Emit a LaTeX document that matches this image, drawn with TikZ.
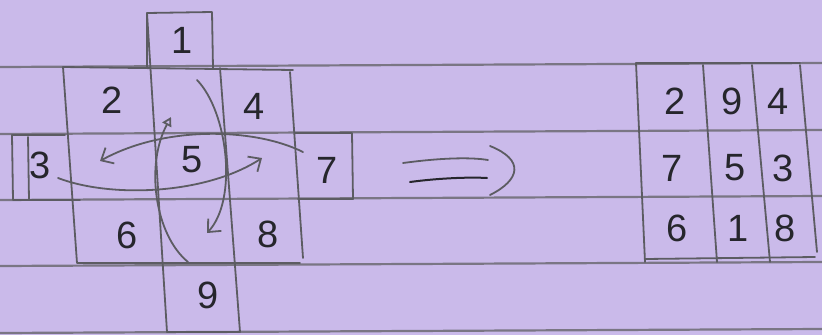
\documentclass[tikz,border=0pt]{standalone}
\usepackage{fontspec}
\setmainfont{Liberation Sans}
\usetikzlibrary{arrows.meta}
\definecolor{paper}{RGB}{202,186,234}
\definecolor{rulegray}{RGB}{122,118,132}
\definecolor{pencil}{RGB}{92,92,98}
\definecolor{ink}{RGB}{38,38,44}
\tikzset{
  digit/.style={text=ink,font=\fontsize{38}{40}\selectfont,inner sep=0pt},
  pen/.style={pencil,line width=1.8pt},
  sweep/.style={pen,-{Straight Barb[length=10pt,width=18pt]}},
}
\begin{document}
\begin{tikzpicture}[x=1pt,y=-1pt,line cap=round,line join=round]
    \fill[paper] (0,0) rectangle (822,335);
    \useasboundingbox (0,0) rectangle (822,335);
    % ruled paper
    \foreach \y in {67,134,200,266,333} \draw[rulegray,line width=2.2pt] (0,\y) -- (822,\y-4);
    % the cross of cells
    \draw[pen] (147,68) -- (147,13) -- (212,12) -- (213,68);
    \draw[pen] (63,67) -- (293,70);
    \draw[pen] (63,67) -- (77,263) -- (300,263);
    \draw[pen] (290,72) -- (303,258);
    \draw[pen] (147,13) -- (167,332);
    \draw[pen] (220,68) -- (240,332) -- (167,332);
    \draw[pen] (65,135) -- (12,135) -- (13,200) -- (80,200);
    \draw[pen] (28,137) -- (29,200);
    \draw[pen] (295,133) -- (352,133) -- (353,199) -- (298,199);
    \node[digit] (n1) at (182,40) {1};
    \node[digit] (n2) at (112,100) {2};
    \node[digit] (n4) at (254,106) {4};
    \node[digit] (n3) at (40,165) {3};
    \node[digit] (n5) at (192,160) {5};
    \node[digit] (n7) at (327,170) {7};
    \node[digit] (n6) at (127,235) {6};
    \node[digit] (n8) at (268,234) {8};
    \node[digit] (n9) at (208,295) {9};
    % the four moves
    \coordinate (from7) at (303,152);
    \coordinate (to2) at (100,161);
    \coordinate (from3) at (58,178);
    \coordinate (to4) at (262,158);
    \coordinate (from1) at (197,80);
    \coordinate (to6) at (207,233);
    \coordinate (from9) at (188,262);
    \coordinate (to8) at (171,117);
    \draw[sweep] (from7) .. controls (255,128) and (165,125) .. (to2);
    \draw[sweep] (from3) .. controls (110,198) and (205,195) .. (to4);
    \draw[sweep] (from1) .. controls (228,112) and (238,200) .. (to6);
    \draw[pen,-{Triangle[open,length=9pt,width=10pt]}] (from9) .. controls (155,235) and (145,165) .. (to8);
    % the sign
    \draw[pen] (403,163) .. controls (440,158) and (470,157) .. (488,160);
    \draw[ink,line width=2pt] (410,182) .. controls (440,178) and (470,177) .. (487,178);
    \draw[pen] (490,146) .. controls (525,160) and (520,180) .. (490,195);
    % the square
    \draw[pen] (636,63) -- (645,262);
    \draw[pen] (703,65) -- (717,262);
    \draw[pen] (752,65) -- (770,262);
    \draw[pen] (800,65) -- (817,252);
    \draw[pen] (636,63) -- (800,63);
    \draw[pen] (645,259) -- (815,257);
    \foreach \d/\x/\y [count=\i] in {2/675/101,9/732/101,4/778/101,7/672/168,5/735/168,3/783/168,6/677/228,1/738/228,8/785/228}
      \node[digit] (r\i) at (\x,\y) {\d};
\end{tikzpicture}
\end{document}
